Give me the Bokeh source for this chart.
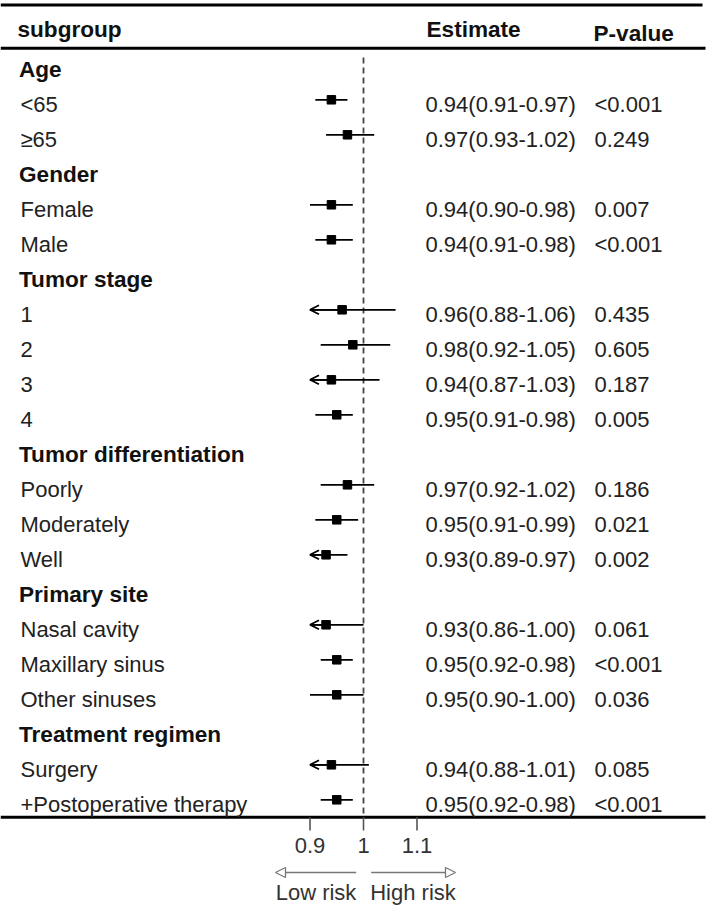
from bokeh.plotting import figure
from bokeh.models import Range1d, Arrow, OpenHead, NormalHead, ColumnDataSource
from bokeh.core.properties import value
from bokeh.embed import file_html
from bokeh.resources import INLINE

# ---------------- data ----------------
group_names = ["Age", "Gender", "Tumor stage", "Tumor differentiation",
               "Primary site", "Treatment regimen"]
group_sizes = [2, 2, 4, 3, 3, 2]
sub_labels = ["<65", "≥65", "Female", "Male", "1", "2", "3", "4",
              "Poorly", "Moderately", "Well", "Nasal cavity", "Maxillary sinus",
              "Other sinuses", "Surgery", "+Postoperative therapy"]
estimate = [0.94, 0.97, 0.94, 0.94, 0.96, 0.98, 0.94, 0.95,
            0.97, 0.95, 0.93, 0.93, 0.95, 0.95, 0.94, 0.95]
ci_low = [0.91, 0.93, 0.90, 0.91, 0.88, 0.92, 0.87, 0.91,
          0.92, 0.91, 0.89, 0.86, 0.92, 0.90, 0.88, 0.92]
ci_high = [0.97, 1.02, 0.98, 0.98, 1.06, 1.05, 1.03, 0.98,
           1.02, 0.99, 0.97, 1.00, 0.98, 1.00, 1.01, 0.98]
p_values = ["<0.001", "0.249", "0.007", "<0.001", "0.435", "0.605", "0.187", "0.005",
            "0.186", "0.021", "0.002", "0.061", "<0.001", "0.036", "0.085", "<0.001"]
tick_values = [0.9, 1.0, 1.1]
tick_labels = ["0.9", "1", "1.1"]
header_labels = ["subgroup", "Estimate", "P-value"]
risk_labels = ["Low risk", "High risk"]
clip_low = 0.9
ref_value = 1.0

# ---------------- layout ----------------
W, H = 709, 907
PXU = 535.0                      # pixels per HR unit
def hx(px):                      # canvas pixel x -> HR units
    return ref_value + (px - 363.0) / PXU
ROW = 35.0
def ry(py):                      # canvas pixel y -> row units
    return (py - 64.3) / ROW

FONT = value("Liberation Sans")
REG = value("22px")
BOLD = value("22.6px")
TXT_OFF = 4.6 / ROW              # text centre below row centre

x_start, x_end = hx(0), hx(W)
y_start, y_end = ry(H), ry(0)

p = figure(width=W, height=H, output_backend="svg", toolbar_location=None,
           x_range=Range1d(x_start, x_end), y_range=Range1d(y_start, y_end),
           min_border=0, outline_line_color=None)
p.axis.visible = False
p.grid.visible = False
p.background_fill_color = "white"

# build row positions
label_rows, label_texts, label_bold = [], [], []
sub_rows = []
r = 0
i = 0
for g, n in zip(group_names, group_sizes):
    label_rows.append(r); label_texts.append(g); label_bold.append(True)
    r += 1
    for _ in range(n):
        label_rows.append(r); label_texts.append(sub_labels[i]); label_bold.append(False)
        sub_rows.append(r)
        r += 1
        i += 1

# horizontal rules
p.segment(x0=[x_start], x1=[hx(702)], y0=[ry(4.5)], y1=[ry(4.5)], line_color="black", line_width=3)
p.segment(x0=[x_start], x1=[hx(705)], y0=[ry(47.7)], y1=[ry(47.7)], line_color="black", line_width=3)
bottom_y = ry(816.7)
p.segment(x0=[x_start], x1=[hx(705)], y0=[bottom_y], y1=[bottom_y], line_color="black", line_width=3)

# reference dashed line
p.segment(x0=[ref_value], x1=[ref_value], y0=[ry(57)], y1=[bottom_y],
          line_color="#444444", line_width=1.8, line_dash="6 4")

# headers
p.text(x=[hx(17)], y=[ry(29)], text=[header_labels[0]], text_font=FONT, text_font_size=BOLD,
       text_font_style="bold", text_color="#111111", text_baseline="middle")
p.text(x=[hx(426)], y=[ry(29)], text=[header_labels[1]], text_font=FONT, text_font_size=BOLD,
       text_font_style="bold", text_color="#111111", text_baseline="middle")
p.text(x=[hx(593)], y=[ry(33)], text=[header_labels[2]], text_font=FONT, text_font_size=BOLD,
       text_font_style="bold", text_color="#111111", text_baseline="middle")

# left labels
bx = [hx(18.5) for b in label_bold if b]
by = [rr + TXT_OFF for rr, b in zip(label_rows, label_bold) if b]
bt = [t for t, b in zip(label_texts, label_bold) if b]
p.text(x=bx, y=by, text=bt, text_font=FONT, text_font_size=BOLD, text_font_style="bold",
       text_color="#111111", text_baseline="middle")
nx = [hx(20) for b in label_bold if not b]
ny = [rr + TXT_OFF for rr, b in zip(label_rows, label_bold) if not b]
nt = [t for t, b in zip(label_texts, label_bold) if not b]
p.text(x=nx, y=ny, text=nt, text_font=FONT, text_font_size=REG,
       text_color="#222222", text_baseline="middle")

# estimate text and p-values
est_txt = [f"{e:.2f}({l:.2f}-{h:.2f})" for e, l, h in zip(estimate, ci_low, ci_high)]
p.text(x=[hx(425)] * len(sub_rows), y=[rr + TXT_OFF for rr in sub_rows], text=est_txt,
       text_font=FONT, text_font_size=REG, text_color="#222222", text_baseline="middle")
p.text(x=[hx(594)] * len(sub_rows), y=[rr + TXT_OFF for rr in sub_rows], text=p_values,
       text_font=FONT, text_font_size=REG, text_color="#222222", text_baseline="middle")

# error bars
lo_clip = [max(l, clip_low) for l in ci_low]
src = ColumnDataSource(dict(y=sub_rows, est=estimate, lo=lo_clip, hi=ci_high))
p.segment(x0="lo", x1="hi", y0="y", y1="y", source=src, line_color="black", line_width=1.8)
p.scatter(x="est", y="y", source=src, marker="square", size=8.5, color="black")

# clipped arrows
cy = [rr for rr, l in zip(sub_rows, ci_low) if l < clip_low]
ce = [e for e, l in zip(estimate, ci_low) if l < clip_low]
csrc = ColumnDataSource(dict(xs=ce, xe=[clip_low] * len(cy), y=cy))
p.add_layout(Arrow(end=OpenHead(size=9, line_width=1.8, line_color="black"),
                   x_start="xs", y_start="y", x_end="xe", y_end="y", source=csrc,
                   line_width=1.8, line_color="black"))

# axis ticks and labels
p.segment(x0=tick_values, x1=tick_values, y0=[bottom_y] * 3, y1=[ry(830)] * 3,
          line_color="#555555", line_width=1.6)
p.text(x=tick_values, y=[ry(845)] * 3, text=tick_labels, text_font=FONT, text_font_size=REG,
       text_color="#333333", text_align="center", text_baseline="middle")

# low / high risk arrows
ay = ry(872)
p.add_layout(Arrow(end=NormalHead(size=10, fill_color="white", line_color="#777777", line_width=1.3),
                   x_start=hx(355.7), y_start=ay, x_end=hx(275), y_end=ay,
                   line_color="#777777", line_width=1.5))
p.add_layout(Arrow(end=NormalHead(size=10, fill_color="white", line_color="#777777", line_width=1.3),
                   x_start=hx(370.7), y_start=ay, x_end=hx(455), y_end=ay,
                   line_color="#777777", line_width=1.5))
p.text(x=[hx(315.5), hx(412.5)], y=[ry(892)] * 2, text=risk_labels, text_font=FONT,
       text_font_size=REG, text_color="#333333", text_align="center", text_baseline="middle")

open("out.html", "w").write(file_html(p, INLINE))
